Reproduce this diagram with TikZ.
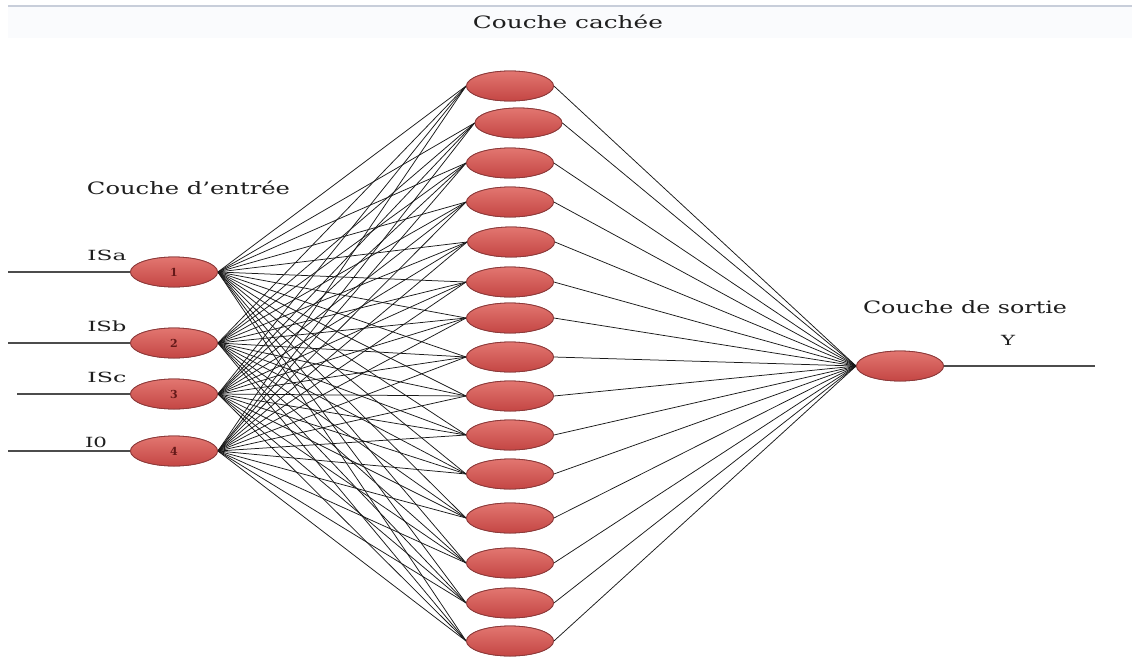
\documentclass[tikz,border=0pt]{standalone}
\usepackage{graphicx}
\usepackage{fontspec}
\setmainfont{DejaVu Serif}
\usetikzlibrary{shapes.geometric}

\definecolor{celltop}{RGB}{226,118,112}
\definecolor{cellmid}{RGB}{214,84,80}
\definecolor{cellbot}{RGB}{196,70,68}
\definecolor{celledge}{RGB}{140,58,58}
\definecolor{celltext}{RGB}{100,25,25}
\definecolor{labeltext}{RGB}{30,30,30}
\definecolor{topline}{RGB}{200,206,218}
\definecolor{topband}{RGB}{250,251,253}

% stretch a label horizontally to a given width, keeping its height
\newcommand{\wlabel}[2]{\resizebox{#1}{\height}{#2}}

\begin{document}
\begin{tikzpicture}[x=1pt,y=-1pt,
  cell/.style={ellipse, minimum width=87pt, minimum height=30pt, inner sep=0pt,
    draw=celledge, line width=0.8pt,
    top color=celltop, middle color=cellmid, bottom color=cellbot,
    font=\fontsize{11}{11}\selectfont\bfseries, text=celltext},
  link/.style={line width=0.75pt, draw=black!90},
  feed/.style={line width=1.2pt, draw=black!70},
  title/.style={font=\fontsize{17}{17}\selectfont, text=labeltext, inner sep=0pt},
  inlabel/.style={font=\fontsize{14}{14}\selectfont, text=labeltext, inner sep=0pt}]

\useasboundingbox (0,0) rectangle (1132,662);
\fill[white] (0,0) rectangle (1132,662);

% window rule along the top
\fill[topband] (8,7) rectangle (1132,38);
\draw[topline, line width=1.5pt] (8,6) -- (1132,6);

% input layer
\node[cell] (i1) at (174,272) {1};
\node[cell] (i2) at (174,343) {2};
\node[cell] (i3) at (174,394) {3};
\node[cell] (i4) at (174,451) {4};

% hidden layer
\foreach \k/\xx/\yy in {1/510/86, 2/518.5/123, 3/510/163, 4/510/202, 5/511/242,
    6/510/282, 7/510/318, 8/510/357, 9/510/396, 10/510/435, 11/510/474,
    12/510/518, 13/510/563, 14/510/603, 15/510/641}
  \node[cell] (h\k) at (\xx,\yy) {};

% output layer
\node[cell] (o) at (900,366) {};

% input feeds
\coordinate (e1) at (8,272);
\coordinate (e2) at (8,343);
\coordinate (e3) at (17,394);
\coordinate (e4) at (8,451);
\foreach \i in {1,...,4}
  \draw[feed] (e\i) -- (i\i.west);

% output feed
\coordinate (yend) at (1095,366);
\draw[feed] (o.east) -- (yend);

% weights: input -> hidden -> output
\foreach \i in {1,...,4}
  \foreach \k in {1,...,15}
    \draw[link] (i\i.east) -- (h\k.west);
\foreach \k in {1,...,15}
  \draw[link] (h\k.east) -- (o.west);

% redraw the cells on top of the weights
\node[cell] at (i1) {1};
\node[cell] at (i2) {2};
\node[cell] at (i3) {3};
\node[cell] at (i4) {4};
\foreach \k/\xx/\yy in {1/510/86, 2/518.5/123, 3/510/163, 4/510/202, 5/511/242,
    6/510/282, 7/510/318, 8/510/357, 9/510/396, 10/510/435, 11/510/474,
    12/510/518, 13/510/563, 14/510/603, 15/510/641}
  \node[cell] at (\xx,\yy) {};
\node[cell] at (o) {};

% labels
\node[title] (tc) at (568,22) {\wlabel{190pt}{Couche cachée}};
\node[title] (te) at (188.5,188) {\wlabel{203pt}{Couche d'entrée}};
\node[title] (ts) at (965,307) {\wlabel{204pt}{Couche de sortie}};
\node[inlabel] (ly) at (1008,340) {\wlabel{14pt}{Y}};
\node[inlabel] (la) at (107,255) {\wlabel{39pt}{ISa}};
\node[inlabel] (lb) at (107,326) {\wlabel{39pt}{ISb}};
\node[inlabel] (lc) at (107,377) {\wlabel{39pt}{ISc}};
\node[inlabel] (l0) at (96,442) {\wlabel{22pt}{I0}};
\end{tikzpicture}
\end{document}
